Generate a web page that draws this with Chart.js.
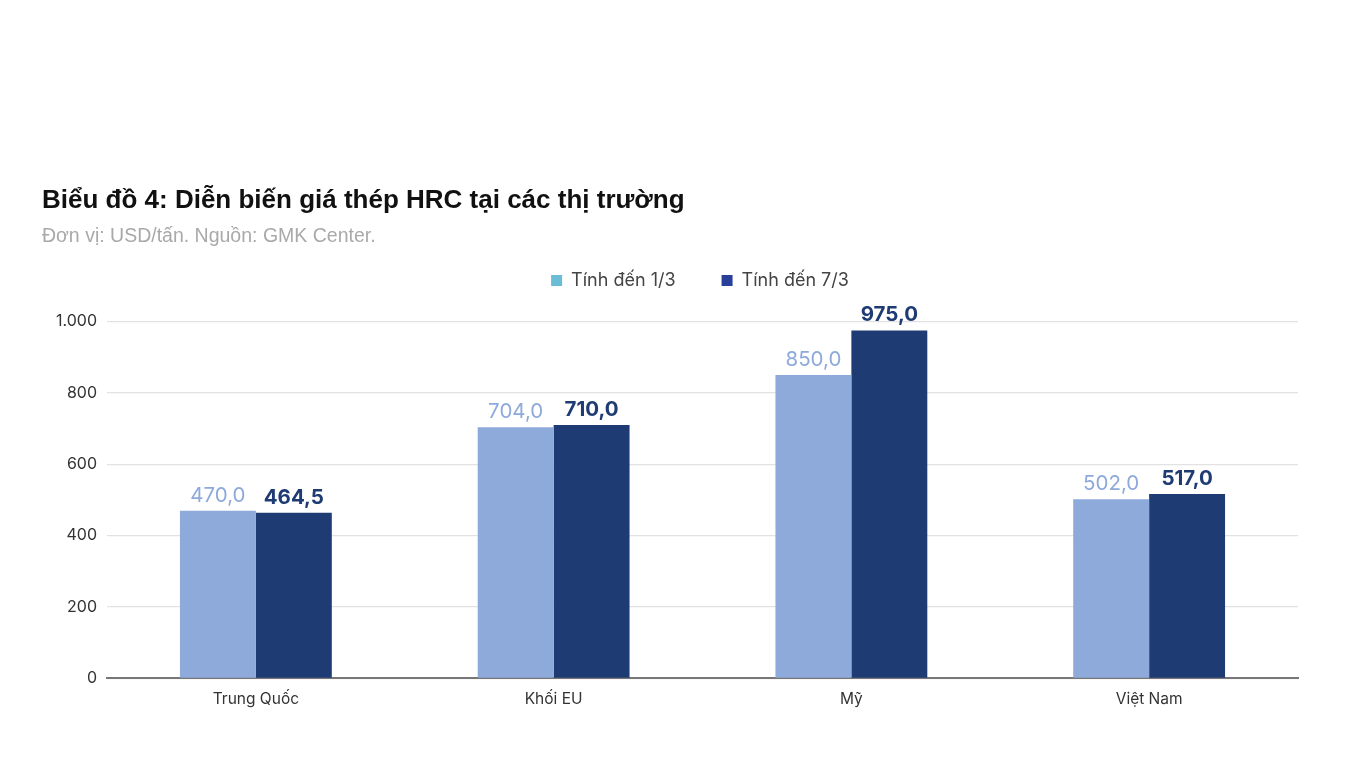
<!DOCTYPE html>
<html>
<head>
<meta charset="utf-8">
<script src="https://cdn.jsdelivr.net/npm/chart.js@4.4.1/dist/chart.umd.min.js"></script>
<style>
  html, body { margin: 0; padding: 0; background: #fff; }
  #wrap { position: absolute; left: 0; top: 0; width: 1366px; height: 768px; }
</style>
</head>
<body>
<div id="wrap"><canvas id="chart"></canvas></div>
<script>
// data
const categories = ['Trung Quốc', 'Khối EU', 'Mỹ', 'Việt Nam'];
const seriesNames = ['Tính đến 1/3', 'Tính đến 7/3'];
const values1 = [470.0, 704.0, 850.0, 502.0];
const values2 = [464.5, 710.0, 975.0, 517.0];
const yTicks = [0, 200, 400, 600, 800, 1000];

const lightBar = '#8eaadb';
const darkBar = '#1f3b73';

// 1000 -> "1.000", 470 -> "470,0"
function fmtTick(v) {
  return String(v).replace(/\B(?=(\d{3})+(?!\d))/g, '.');
}
function fmtVal(v) {
  return v.toFixed(1).replace('.', ',');
}

// draw the value above each bar
const valueLabels = {
  id: 'valueLabels',
  afterDatasetsDraw(chart) {
    const ctx = chart.ctx;
    ctx.save();
    chart.data.datasets.forEach((ds, i) => {
      const meta = chart.getDatasetMeta(i);
      meta.data.forEach((bar, j) => {
        ctx.font = (i === 1 ? 'bold ' : '') + '20.5px Inter, "Liberation Sans", sans-serif';
        ctx.fillStyle = i === 1 ? '#1f3b73' : '#8eaadb';
        ctx.textAlign = 'center';
        ctx.textBaseline = 'bottom';
        ctx.fillText(fmtVal(ds.data[j]), bar.x, bar.y - 5);
      });
    });
    ctx.restore();
  }
};

// the wide item padding also pushes the legend down, so pull it back up
const legendTweak = {
  id: 'legendTweak',
  beforeInit(chart) {
    const orig = chart.legend.fit;
    chart.legend.fit = function () {
      orig.bind(chart.legend)();
      this.height -= 3;
    };
  },
  afterLayout(chart) {
    chart.legend.left += 30;
    chart.legend.right += 30;
    chart.legend.top -= 25;
    chart.legend.bottom -= 25;
  }
};

new Chart(document.getElementById('chart'), {
  type: 'bar',
  data: {
    labels: categories,
    datasets: [
      {
        label: seriesNames[0],
        data: values1,
        backgroundColor: lightBar,
        categoryPercentage: 0.51,
        barPercentage: 1.0
      },
      {
        label: seriesNames[1],
        data: values2,
        backgroundColor: darkBar,
        categoryPercentage: 0.51,
        barPercentage: 1.0
      }
    ]
  },
  options: {
    responsive: true,
    maintainAspectRatio: false,
    animation: false,
    layout: { padding: { left: 42, right: 68, top: 185, bottom: 55 } },
    plugins: {
      title: {
        display: true,
        text: 'Biểu đồ 4: Diễn biến giá thép HRC tại các thị trường',
        align: 'start',
        color: '#111',
        font: { family: '"Liberation Sans", Arial, sans-serif', size: 26, weight: 'bold' },
        padding: { top: 0, bottom: 9 }
      },
      subtitle: {
        display: true,
        text: 'Đơn vị: USD/tấn. Nguồn: GMK Center.',
        align: 'start',
        color: '#a9a9a9',
        font: { family: '"Liberation Sans", Arial, sans-serif', size: 19.5 },
        padding: { top: 0, bottom: 2 }
      },
      legend: {
        display: true,
        position: 'top',
        labels: {
          color: '#444',
          font: { family: 'Inter, "Liberation Sans", sans-serif', size: 18 },
          boxWidth: 11,
          boxHeight: 11,
          padding: 46,
          generateLabels(chart) {
            const legendColors = ['#6bbcd6', '#2a3f9a'];
            return chart.data.datasets.map((ds, i) => ({
              text: ds.label,
              fillStyle: legendColors[i],
              strokeStyle: legendColors[i],
              lineWidth: 0,
              fontColor: '#444',
              datasetIndex: i
            }));
          }
        }
      },
      tooltip: { enabled: false }
    },
    scales: {
      x: {
        grid: { display: false },
        border: { display: true, color: '#777', width: 2 },
        ticks: {
          color: '#333',
          font: { family: 'Inter, "Liberation Sans", sans-serif', size: 15.5 },
          padding: 4
        }
      },
      y: {
        min: 0,
        max: 1000,
        afterBuildTicks(scale) {
          scale.ticks = yTicks.map(v => ({ value: v }));
        },
        afterFit(scale) { scale.width = 65; },
        grid: { color: '#e2e2e2', lineWidth: 1.2, drawTicks: false },
        border: { display: false },
        ticks: {
          color: '#333',
          font: { family: 'Inter, "Liberation Sans", sans-serif', size: 16 },
          padding: 10,
          callback: v => fmtTick(v)
        }
      }
    }
  },
  plugins: [valueLabels, legendTweak]
});
</script>
</body>
</html>
